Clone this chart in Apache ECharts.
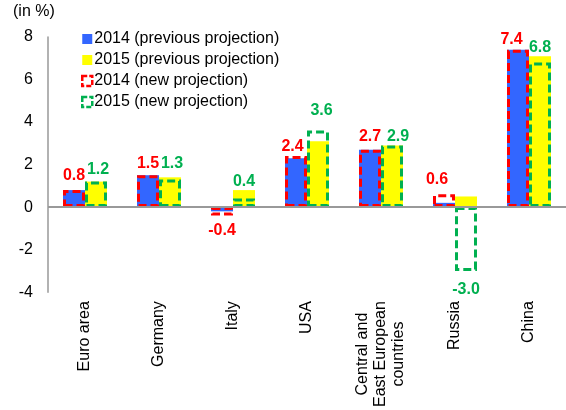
<!DOCTYPE html>
<html>
<head>
<meta charset="utf-8">
<script src="https://cdn.jsdelivr.net/npm/echarts@6/dist/echarts.min.js"></script>
<style>
  html, body { margin: 0; padding: 0; background: #fff; }
  #chart { width: 566px; height: 410px; }
</style>
</head>
<body>
<div id="chart"></div>
<script>
// ---- data ----
const categories = ['Euro area', 'Germany', 'Italy', 'USA', 'Central and\nEast European\ncountries', 'Russia', 'China'];
const prev2014 = [0.8, 1.5, -0.2, 2.3, 2.7, 0.2, 7.4];
const prev2015 = [1.2, 1.4, 0.8, 3.1, 2.9, 0.5, 7.1];
const new2014  = [0.8, 1.5, -0.4, 2.4, 2.7, 0.6, 7.4];
const new2015  = [1.2, 1.3, 0.4, 3.6, 2.9, -3.0, 6.8];
const yTicks = { min: -4, max: 8, interval: 2 };
const seriesNames = ['2014 (previous projection)', '2015 (previous projection)', '2014 (new projection)', '2015 (new projection)'];

// ---- label nudges (layout only) ----
const off2014 = [[0, -1], [0, 1], [0, 2], [-3.5, 4], [0, 0], [-7, -1.5], [-6.5, 3]];
const off2015 = [[2, 1], [2, -3], [0, -4.5], [3.5, -6.7], [6, 4], [0, 6], [0, -2.4]];

const FONT = 'Liberation Sans, Arial, sans-serif';
const BLUE = '#3366FF', YELLOW = '#FFFF00', RED = '#FF0000', GREEN = '#00B050';

function labelled(values, offsets, color) {
  return values.map((v, i) => ({
    value: v,
    label: {
      show: true,
      position: v < 0 ? 'bottom' : 'top',
      distance: 5,
      offset: offsets[i],
      formatter: (p) => Number(p.value).toFixed(1),
      color: color,
      fontFamily: FONT,
      fontWeight: 'bold',
      fontSize: 16
    }
  }));
}

const chart = echarts.init(document.getElementById('chart'), null, { renderer: 'canvas' });

const option = {
  animation: false,
  backgroundColor: '#fff',
  textStyle: { fontFamily: FONT },
  graphic: [{
    type: 'text', left: 13, top: 4,
    style: { text: '(in %)', font: '16px ' + FONT, fill: '#000' }
  }],
  legend: {
    orient: 'vertical',
    left: 76,
    top: 26,
    itemWidth: 10,
    itemHeight: 10,
    itemGap: 5,
    icon: 'rect',
    textStyle: { fontSize: 16, color: '#000', fontFamily: FONT, padding: [0, 0, 0, -3] },
    data: [
      { name: seriesNames[0], itemStyle: { color: BLUE } },
      { name: seriesNames[1], itemStyle: { color: YELLOW } },
      { name: seriesNames[2], itemStyle: { color: '#fff', borderColor: RED, borderWidth: 2.5, borderType: [5, 2] } },
      { name: seriesNames[3], itemStyle: { color: '#fff', borderColor: GREEN, borderWidth: 2.5, borderType: [5, 2] } }
    ]
  },
  grid: { left: 48, right: -6, top: 37, bottom: 114 },
  xAxis: [{
    type: 'category',
    data: categories,
    axisLine: { show: false, onZero: false },
    axisTick: { show: false },
    axisLabel: {
      rotate: 90,
      margin: 9,
      fontSize: 16,
      lineHeight: 18,
      color: '#000',
      fontFamily: FONT,
      interval: 0,
      formatter: (v) => v.indexOf('\n') >= 0 ? v.split('\n').map(s => '{c|' + s + '}').join('\n') : v,
      rich: { c: { align: 'center', fontSize: 16, lineHeight: 18, fontFamily: FONT, color: '#000' } }
    }
  }, {
    type: 'category',
    data: categories,
    show: false
  }],
  yAxis: {
    type: 'value',
    min: yTicks.min, max: yTicks.max, interval: yTicks.interval,
    axisLine: { show: true, lineStyle: { color: '#999', width: 1.5 } },
    axisTick: { show: false },
    splitLine: { show: false },
    axisLabel: { fontSize: 16, color: '#000', fontFamily: FONT, margin: 15 }
  },
  series: [
    {
      name: seriesNames[0], type: 'bar', xAxisIndex: 0,
      data: prev2014, barWidth: 22, barGap: '0%',
      itemStyle: { color: BLUE },
      markLine: {
        silent: true, symbol: 'none', label: { show: false },
        lineStyle: { color: '#999', type: 'solid', width: 2 },
        data: [{ yAxis: 0 }]
      }
    },
    {
      name: seriesNames[1], type: 'bar', xAxisIndex: 0,
      data: prev2015, barWidth: 22, barGap: '0%',
      itemStyle: { color: YELLOW }
    },
    {
      name: seriesNames[2], type: 'bar', xAxisIndex: 1,
      data: labelled(new2014, off2014, RED), barWidth: 22, barGap: '0%',
      itemStyle: { color: 'rgba(0,0,0,0)', borderColor: RED, borderWidth: 3, borderType: [8, 4] }
    },
    {
      name: seriesNames[3], type: 'bar', xAxisIndex: 1,
      data: labelled(new2015, off2015, GREEN), barWidth: 22, barGap: '0%',
      itemStyle: { color: 'rgba(0,0,0,0)', borderColor: GREEN, borderWidth: 3, borderType: [8, 4] }
    }
  ]
};
chart.setOption(option);
</script>
</body>
</html>
